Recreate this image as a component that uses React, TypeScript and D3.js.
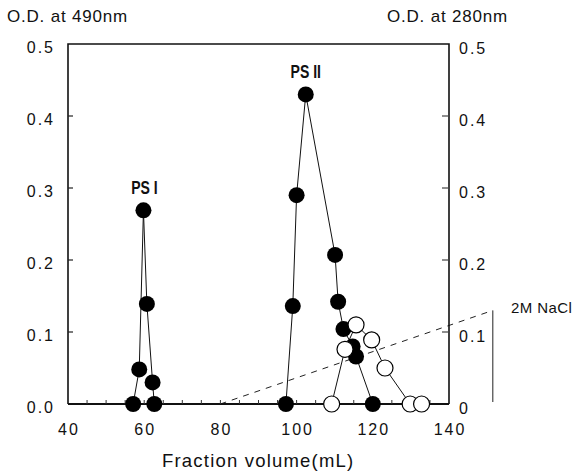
import React from "react";
import * as d3 from "d3";

// ---- data ----
const xTickValues = [40, 60, 80, 100, 120, 140];
const xMinorTicks = [45, 50, 55, 60, 65, 70, 75, 80, 85, 90, 95, 100, 105, 110, 115, 120, 125, 130, 135];
const yTickValues = [0, 0.1, 0.2, 0.3, 0.4, 0.5];
const yTickLabelsLeft = ["0.0", "0.1", "0.2", "0.3", "0.4", "0.5"];
const yTickLabelsRight = ["0", "0.1", "0.2", "0.3", "0.4", "0.5"];

// O.D. at 490nm (filled) – PS I peak
const ps1Volume = [57.1, 58.7, 59.8, 60.7, 62.2, 62.65];
const ps1OD490 = [0, 0.048, 0.269, 0.139, 0.03, 0];

// O.D. at 490nm (filled) – PS II peak
const ps2Volume = [97.2, 99.0, 100.0, 102.4, 110.1, 110.9, 112.3, 114.7, 115.6, 120.0];
const ps2OD490 = [0, 0.136, 0.29, 0.43, 0.207, 0.142, 0.104, 0.08, 0.066, 0];

// O.D. at 280nm (open)
const proteinVolume = [109.2, 112.7, 115.6, 119.7, 123.2, 129.8, 132.8];
const proteinOD280 = [0, 0.076, 0.11, 0.089, 0.05, 0, 0];

// NaCl gradient (dashed)
const gradientVolume = [80, 151.5];
const gradientLevel = [0, 0.13];

const peakLabels = ["PS I", "PS II"];

export default function App() {
  const x = d3.scaleLinear().domain([40, 140]).range([68, 449]);
  const y = d3.scaleLinear().domain([0, 0.5]).range([404, 44]);

  const line = d3
    .line<[number, number]>()
    .x((d) => x(d[0]))
    .y((d) => y(d[1]));

  const ps1 = ps1Volume.map((v, i) => [v, ps1OD490[i]] as [number, number]);
  const ps2 = ps2Volume.map((v, i) => [v, ps2OD490[i]] as [number, number]);
  const prot = proteinVolume.map((v, i) => [v, proteinOD280[i]] as [number, number]);
  const grad = gradientVolume.map((v, i) => [v, gradientLevel[i]] as [number, number]);

  const font = "'Liberation Sans', Arial, Helvetica, sans-serif";
  const boldFont = "'Liberation Sans', Arial, sans-serif";
  const r = 8;

  const ps1Peak = ps1[2];
  const ps2Peak = ps2[3];
  const gradEnd = grad[1];

  return (
    <svg
      width={573}
      height={473}
      style={{ position: "absolute", left: 0, top: 0, background: "#fff" }}
    >
      <rect x={0} y={0} width={573} height={473} fill="#fff" />

      {/* axis titles */}
      <text x={7} y={22} fontFamily={font} fontSize={17} letterSpacing={0.8} fill="#111">
        O.D. at 490nm
      </text>
      <text x={387} y={22} fontFamily={font} fontSize={17} letterSpacing={0.8} fill="#111">
        O.D. at 280nm
      </text>
      <text x={162} y={467} fontFamily={font} fontSize={18.5} letterSpacing={1.2} fill="#111">
        Fraction volume(mL)
      </text>

      {/* gradient dashed line */}
      <path
        d={line(grad) || ""}
        fill="none"
        stroke="#222"
        strokeWidth={1}
        strokeDasharray="6,6"
      />
      <line
        x1={x(gradEnd[0])}
        x2={x(gradEnd[0])}
        y1={y(gradEnd[1])}
        y2={y(0) - 2}
        stroke="#222"
        strokeWidth={1}
      />
      <text x={511} y={313} fontFamily={font} fontSize={15} letterSpacing={0.4} fill="#111">
        2M NaCl
      </text>

      {/* frame */}
      <path
        d={`M${x(40)},${y(0)}V${y(0.5)}H${x(140)}V${y(0)}`}
        fill="none"
        stroke="#111"
        strokeWidth={1.6}
      />
      <line x1={x(40)} x2={x(140)} y1={y(0)} y2={y(0)} stroke="#111" strokeWidth={2} />

      {/* x ticks */}
      {xMinorTicks.map((t) => (
        <line
          key={"xm" + t}
          x1={x(t)}
          x2={x(t)}
          y1={y(0)}
          y2={y(0) - 4}
          stroke="#333"
          strokeWidth={1}
        />
      ))}
      {xTickValues.map((t) => (
        <text
          key={"xt" + t}
          x={x(t) + 1}
          y={435}
          textAnchor="middle"
          fontFamily={font}
          fontSize={16}
          letterSpacing={2}
          fill="#111"
        >
          {t}
        </text>
      ))}

      {/* left y ticks */}
      {yTickValues.map((t, i) => (
        <g key={"yl" + i}>
          {t > 0 && t < 0.5 && (
            <line x1={x(40)} x2={x(40) + 5} y1={y(t)} y2={y(t)} stroke="#222" strokeWidth={1.2} />
          )}
          <text
            x={55}
            y={y(t) + 9}
            textAnchor="end"
            fontFamily={font}
            fontSize={16}
            letterSpacing={2}
            fill="#111"
          >
            {yTickLabelsLeft[i]}
          </text>
        </g>
      ))}

      {/* right y ticks */}
      {yTickValues.map((t, i) => (
        <g key={"yr" + i}>
          {t > 0 && t < 0.5 && (
            <line x1={x(140) - 7} x2={x(140)} y1={y(t)} y2={y(t)} stroke="#444" strokeWidth={1.2} />
          )}
          <text
            x={459}
            y={y(t) + 10}
            textAnchor="start"
            fontFamily={font}
            fontSize={16}
            letterSpacing={2}
            fill="#111"
          >
            {yTickLabelsRight[i]}
          </text>
        </g>
      ))}

      {/* data lines */}
      <path d={line(ps1) || ""} fill="none" stroke="#111" strokeWidth={1} />
      <path d={line(ps2) || ""} fill="none" stroke="#111" strokeWidth={1} />
      <path d={line(prot) || ""} fill="none" stroke="#111" strokeWidth={1} />

      {/* filled markers */}
      {[...ps1, ...ps2].map((d, i) => (
        <circle key={"f" + i} cx={x(d[0])} cy={y(d[1])} r={r} fill="#000" />
      ))}
      {/* open markers */}
      {prot.map((d, i) => (
        <circle
          key={"o" + i}
          cx={x(d[0])}
          cy={y(d[1])}
          r={r}
          fill="#fff"
          stroke="#000"
          strokeWidth={1.2}
        />
      ))}

      {/* peak labels (condensed bold) */}
      <g transform={`translate(${x(ps1Peak[0]) + 1},${y(ps1Peak[1]) - 16}) scale(0.78,1)`}>
        <text
          x={0}
          y={0}
          textAnchor="middle"
          fontFamily={boldFont}
          fontWeight="bold"
          fontSize={18}
          fill="#111"
        >
          {peakLabels[0]}
        </text>
      </g>
      <g transform={`translate(${x(ps2Peak[0])},${y(ps2Peak[1]) - 16}) scale(0.78,1)`}>
        <text
          x={0}
          y={0}
          textAnchor="middle"
          fontFamily={boldFont}
          fontWeight="bold"
          fontSize={18}
          fill="#111"
        >
          {peakLabels[1]}
        </text>
      </g>
    </svg>
  );
}
